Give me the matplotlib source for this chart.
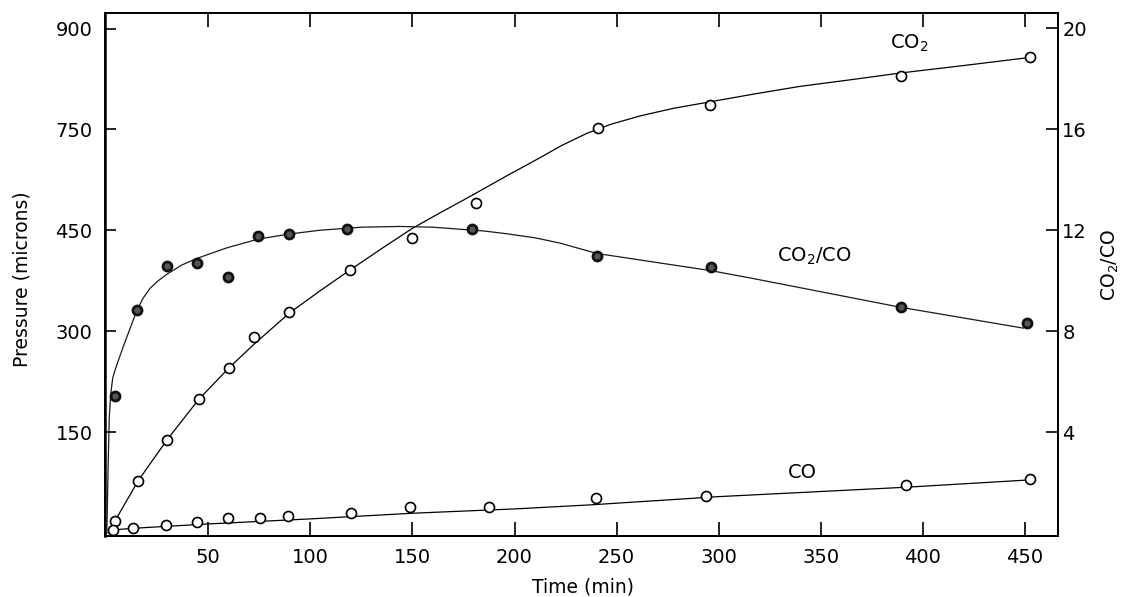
import matplotlib
matplotlib.use("Agg")
import matplotlib.pyplot as plt

plt.rcParams['font.family'] = ['DejaVu Sans']
plt.rcParams['mathtext.default'] = 'regular'

# ---- data ----
time_ticks = [50, 100, 150, 200, 250, 300, 350, 400, 450]
p_tick_pos = [150, 300, 450, 600, 750]
p_tick_labels = ['150', '300', '450', '750', '900']
r_ticks = [4, 8, 12, 16, 20]

co2_t = [4.3, 15.7, 29.9, 45.4, 60.3, 72.5, 89.7, 119.4, 149.6, 181.1, 241.0, 295.7, 389.3, 452.4]
co2_p = [18, 78, 139, 199, 246, 292, 328, 391, 438, 491, 602, 636, 679, 707]

co_t = [3.5, 13.3, 29.3, 44.3, 59.8, 75.3, 89.2, 119.9, 148.8, 187.5, 239.7, 293.6, 391.6, 452.5]
co_p = [5, 7, 12, 17, 22, 22, 25, 30, 38, 38, 52, 55, 72, 80]

ratio_t = [4.3, 14.9, 29.6, 44.3, 59.8, 74.5, 89.7, 117.8, 179.0, 240.2, 296.0, 389.3, 450.8]
ratio_v = [5.43, 8.82, 10.59, 10.70, 10.14, 11.78, 11.86, 12.04, 12.04, 10.98, 10.56, 8.95, 8.34]

# hand-drawn fitted curves (knots)
co2_fit_t = [1.0, 4.3, 15.7, 29.9, 45.4, 60.3, 72.5, 89.7, 104.7, 119.4, 135, 150, 163.5, 175,
             196.2, 212.5, 223, 235.3, 247, 261.4, 278, 295.7, 318, 339.8, 365, 389.3, 420, 452.4]
co2_fit_p = [0, 18, 78, 139, 199, 246, 281, 327, 360, 391, 423, 453, 476, 495,
             531, 558, 576, 594, 607.5, 620, 631.5, 641, 653, 664, 674, 684, 695, 707]

ratio_fit_t = [0.3, 0.9, 1.5, 2.2, 3.2, 4.5, 8.4, 14.9, 18, 21.5, 25.5, 29.6, 37, 44.3,
               59, 74.5, 89.7, 104.7, 125, 144, 160, 171.6, 185, 196.2, 210, 222.3, 240.2,
               296, 315.3, 388.8, 449.2]
ratio_fit_v = [0.0, 2.5, 4.6, 5.5, 6.15, 6.5, 7.4, 8.8, 9.3, 9.7, 10.0, 10.25, 10.62, 10.88,
               11.3, 11.65, 11.85, 12.0, 12.12, 12.15, 12.12, 12.05, 11.97, 11.86, 11.7, 11.49, 11.08,
               10.4, 10.11, 8.95, 8.12]

co_fit_t = [3.3, 13.8, 50, 100, 150, 200, 237, 300, 392, 452.5]
co_fit_p = [4.6, 7.1, 13.5, 21, 29.4, 35.8, 41.8, 54.1, 68.1, 79]

# ---- figure ----
W, H = 1121, 597
fig = plt.figure(figsize=(W / 100, H / 100), dpi=100)
ax = fig.add_axes([105 / W, 1 - 535.5 / H, (1058 - 105) / W, (535.5 - 13) / H])
ax2 = ax.twinx()

FS = 13.5
TFS = 14
lw = 0.9

ax.plot(co2_fit_t, co2_fit_p, color='black', lw=lw, zorder=2)
ax.plot(co_fit_t, co_fit_p, color='black', lw=lw, zorder=2)
ax.plot(co2_t, co2_p, ls='none', marker='o', ms=7.2, mfc='white', mec='black', mew=1.2, zorder=3)
ax.plot(co_t, co_p, ls='none', marker='o', ms=7.2, mfc='white', mec='black', mew=1.2, zorder=3)

ax2.plot(ratio_fit_t, ratio_fit_v, color='#1a1a1a', lw=lw, zorder=2)
ax2.plot(ratio_t, ratio_v, ls='none', marker='o', ms=6.5, mfc='#555555', mec='#111111', mew=2.0, zorder=3)

ax.set_xlim(-0.6, 466.2)
ax.set_ylim(-3.7, 773.1)
ax2.set_ylim(-0.1, 20.61)

ax.set_xticks(time_ticks)
ax.set_xticklabels([str(v) for v in time_ticks])
ax.set_yticks(p_tick_pos)
ax.set_yticklabels(p_tick_labels)
ax2.set_yticks(r_ticks)
ax2.set_yticklabels([str(v) for v in r_ticks])

ax.tick_params(axis='x', direction='in', length=10, width=1.2, top=True, bottom=True,
               labelsize=TFS, pad=9)
ax.tick_params(axis='y', direction='in', length=8, width=1.2, left=True, right=False,
               labelsize=TFS, pad=9)
ax2.tick_params(axis='y', direction='in', length=9, width=1.2, labelsize=TFS, pad=3)

for a in (ax, ax2):
    for s in a.spines.values():
        s.set_linewidth(1.4)
ax.spines['left'].set_linewidth(1.8)

# series labels
ax.text(383.9, 719.7, r'CO$_2$', fontsize=14, ha='left', va='baseline')
ax.text(328.5, 403, r'CO$_2$/CO', fontsize=14, ha='left', va='baseline')
ax.text(333.9, 81.9, 'CO', fontsize=14, ha='left', va='baseline')

# axis titles
fig.text(583.5 / W, 1 - 587 / H, 'Time (min)', fontsize=FS, ha='center', va='center')
fig.text(22 / W, 1 - 279 / H, 'Pressure (microns)', fontsize=FS, ha='center', va='center', rotation=90)
fig.text(1110 / W, 1 - 265 / H, r'CO$_2$/CO', fontsize=FS, ha='center', va='center', rotation=90)

fig.savefig('out.png', dpi=100)
